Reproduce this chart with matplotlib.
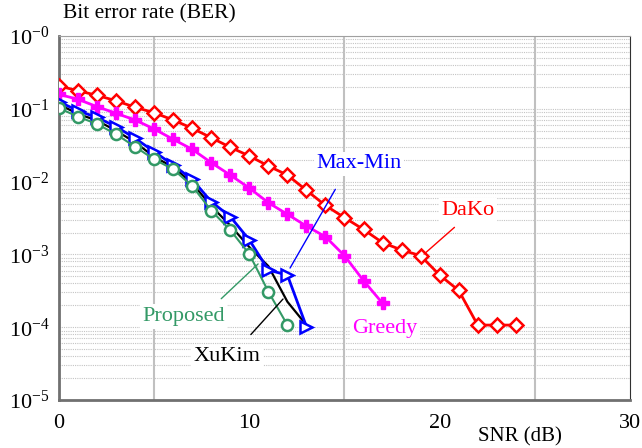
import numpy as np
import matplotlib
matplotlib.use('Agg')
import matplotlib.pyplot as plt
from matplotlib.ticker import LogLocator, NullFormatter, FixedLocator

plt.rcParams['font.family'] = ['Liberation Serif', 'DejaVu Serif']
plt.rcParams['mathtext.fontset'] = 'custom'
plt.rcParams['mathtext.rm'] = 'Liberation Serif'

# Datos (SNR en dB, BER)
snr_dako = np.arange(0, 25)
ber_dako = [0.206, 0.177, 0.153, 0.129, 0.105, 0.0883, 0.0702, 0.054, 0.0401,
            0.0296, 0.0225, 0.0164, 0.0123, 0.0076, 0.0047, 0.0032, 0.0022,
            0.00145, 0.00115, 0.00096, 0.00052, 0.00032, 0.000107, 0.000107,
            0.000107]

snr_greedy = np.arange(0, 18)
ber_greedy = [0.158, 0.135, 0.107, 0.0867, 0.0702, 0.0528, 0.0381, 0.0278,
              0.0182, 0.0123, 0.00817, 0.00513, 0.00356, 0.00245, 0.00175,
              0.00096, 0.000436, 0.000213]

snr_maxmin = np.arange(0, 14)
ber_maxmin = [0.125, 0.094, 0.076, 0.0569, 0.0393, 0.0258, 0.0169, 0.0107,
              0.0053, 0.0033, 0.00158, 0.00061, 0.00052, 0.000102]

snr_xukim = np.arange(0, 14)
ber_xukim = [0.115, 0.085, 0.069, 0.050, 0.0347, 0.0219, 0.0158, 0.0095,
             0.0046, 0.0025, 0.00126, 0.00069, 0.000224, 0.000107]

snr_prop = np.arange(0, 13)
ber_prop = [0.102, 0.078, 0.0618, 0.0447, 0.0301, 0.0202, 0.0148, 0.0087,
            0.0040, 0.00216, 0.00101, 0.000308, 0.000107]

x_ticks = [0, 10, 20, 30]
y_exps = [0, -1, -2, -3, -4, -5]

fig = plt.figure(figsize=(6.42, 4.48), dpi=100)
ax = fig.add_axes([0.0919, 0.1071, 0.8894, 0.8125])
ax.set_yscale('log')
ax.set_xlim(0, 30)
ax.set_ylim(1e-5, 1)

# rejilla
ax.yaxis.set_major_locator(LogLocator(base=10, numticks=10))
ax.yaxis.set_minor_locator(LogLocator(base=10, subs=np.arange(2, 10), numticks=20))
ax.yaxis.set_minor_formatter(NullFormatter())
ax.grid(True, which='both', axis='y', color='#c4c4c4', linestyle=(0, (1, 1)), linewidth=0.8)
ax.xaxis.set_minor_locator(FixedLocator([5, 10, 15, 20, 25]))
ax.grid(True, which='minor', axis='x', color='#c0c0c0', linestyle='-', linewidth=1.5)
ax.set_axisbelow(True)

ax.set_xticks(x_ticks)
ax.set_xticklabels([str(t) for t in x_ticks])
ax.set_yticks([10.0 ** e for e in y_exps])
ax.set_yticklabels([r'$\mathregular{10^{%s}}$' % ('-0' if e == 0 else str(e)) for e in y_exps])
ax.tick_params(which='both', length=0, labelsize=16, pad=7)
ax.tick_params(axis='x', pad=10)

for s in ['left', 'bottom']:
    ax.spines[s].set_color('#707070')
    ax.spines[s].set_linewidth(2)
ax.spines['top'].set_color('#a0a0a0')
ax.spines['right'].set_color('#303030')

# curvas
ax.plot(snr_dako, ber_dako, color='#ff0000', lw=2, marker='D', ms=7,
        mfc='white', mec='#ff0000', mew=1.8, zorder=3)
ax.plot(snr_greedy, ber_greedy, color='#ff00ff', lw=2, marker='P', ms=9,
        mfc='#ff00ff', mec='#ff00ff', zorder=3)
ax.plot(snr_xukim, ber_xukim, color='black', lw=1.6, zorder=4)
ax.plot(snr_maxmin, ber_maxmin, color='#0000ff', lw=2, marker='>', ms=9,
        mfc='white', mec='#0000ff', mew=1.8, zorder=5)
ax.plot(snr_prop, ber_prop, color='#339966', lw=1.5, marker='o', ms=8,
        mfc='white', mec='#339966', mew=1.8, zorder=6)

# etiquetas de las curvas
box = dict(facecolor='white', edgecolor='none', pad=2)
ax.annotate('Max-Min', xy=(12.14, 6.5e-4), xytext=(15.76, 1.75e-2), color='#0000ff',
            fontsize=16, ha='center', va='center', bbox=box, zorder=7,
            arrowprops=dict(arrowstyle='-', color='#0000ff', lw=1,
                            relpos=(0.33, 0), shrinkA=11, shrinkB=0))
ax.annotate('DaKo', xy=(19.18, 1.01e-3), xytext=(21.49, 4.0e-3), color='#ff0000',
            fontsize=16, ha='center', va='center', bbox=box, zorder=7,
            arrowprops=dict(arrowstyle='-', color='#ff0000', lw=1,
                            relpos=(0.4, 0), shrinkA=5, shrinkB=0))
ax.text(17.13, 9.5e-5, 'Greedy', color='#ff00ff', fontsize=16,
        ha='center', va='center', bbox=box, zorder=7)
ax.annotate('Proposed', xy=(10.46, 7.4e-4), xytext=(6.54, 1.4e-4), color='#339966',
            fontsize=16, ha='center', va='center', bbox=box, zorder=7,
            arrowprops=dict(arrowstyle='-', color='#339966', lw=1,
                            relpos=(0.85, 1), shrinkA=6, shrinkB=0))
ax.annotate('XuKim', xy=(11.77, 2.44e-4), xytext=(8.83, 3.9e-5), color='black',
            fontsize=16, ha='center', va='center', bbox=box, zorder=7,
            arrowprops=dict(arrowstyle='-', color='black', lw=1,
                            relpos=(0.68, 1), shrinkA=10, shrinkB=0))

fig.text(0.232, 0.969, 'Bit error rate (BER)', fontsize=15.5, ha='center', va='center')
fig.text(0.81, 0.025, 'SNR (dB)', fontsize=15, ha='center', va='center')

fig.savefig('out.png', dpi=100)
